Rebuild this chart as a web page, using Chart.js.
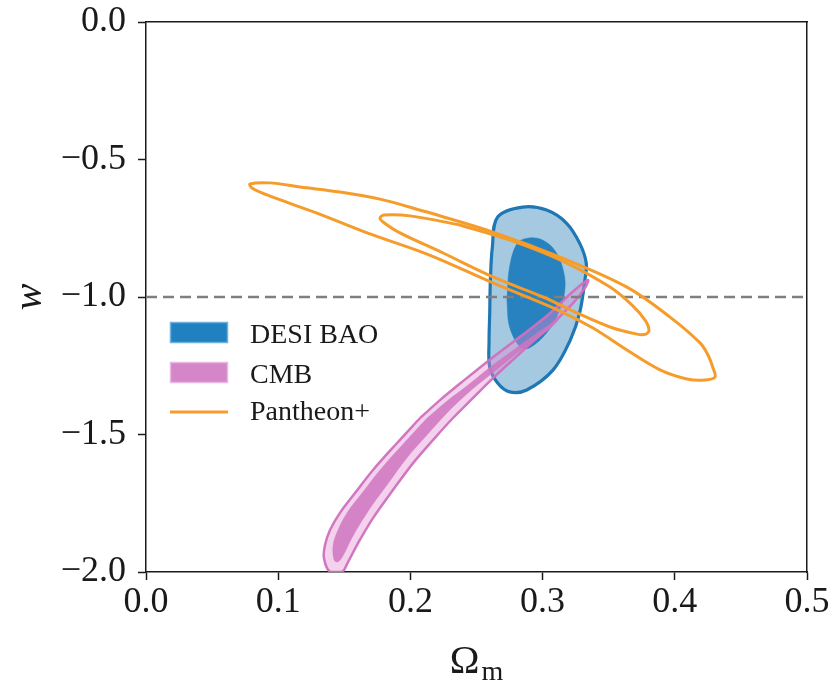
<!DOCTYPE html>
<html><head><meta charset="utf-8">
<script src="https://cdn.jsdelivr.net/npm/chart.js@4.4.1/dist/chart.umd.min.js"></script>
<style>html,body{margin:0;padding:0;background:#fff}</style>
</head><body>
<canvas id="c" width="836" height="687"></canvas>
<script>
// ---- tick values ----
const xTickValues = [0, 0.1, 0.2, 0.3, 0.4, 0.5];
const yTickValues = [-2, -1.5, -1, -0.5, 0];
const wLambda = -1.0;

// ---- contours [Omega_m, w] ----
const desiOuter = [[0.260,-1.058],[0.2595,-1.16],[0.260,-1.255],[0.266,-1.313],[0.275,-1.345],[0.288,-1.338],[0.308,-1.265],[0.321,-1.156],[0.328,-1.058],[0.332,-0.938],[0.333,-0.876],[0.328,-0.804],[0.318,-0.731],[0.303,-0.684],[0.285,-0.673],[0.266,-0.709],[0.262,-0.818],[0.2605,-0.94],[0.260,-1.058]];
const desiInner = [[0.273,-1.011],[0.275,-1.109],[0.283,-1.182],[0.290,-1.185],[0.303,-1.131],[0.313,-1.047],[0.317,-0.964],[0.315,-0.891],[0.309,-0.829],[0.300,-0.793],[0.290,-0.785],[0.281,-0.804],[0.275,-0.891],[0.273,-1.011]];
const cmbOuter = [[0.2073,-1.440],[0.2224,-1.375],[0.2390,-1.309],[0.2579,-1.236],[0.2776,-1.164],[0.3033,-1.068],[0.3230,-0.980],[0.3343,-0.938],[0.3321,-0.967],[0.3230,-1.022],[0.3033,-1.116],[0.2829,-1.205],[0.2625,-1.295],[0.2474,-1.367],[0.2322,-1.440],[0.2171,-1.520],[0.2020,-1.604],[0.1868,-1.702],[0.1717,-1.804],[0.1604,-1.895],[0.1528,-1.964],[0.1483,-2.000],[0.1392,-2.000],[0.1346,-1.949],[0.1354,-1.902],[0.1392,-1.847],[0.1467,-1.785],[0.1581,-1.713],[0.1717,-1.629],[0.1899,-1.531],[0.2073,-1.440]];
const cmbInner = [[0.2126,-1.440],[0.2277,-1.378],[0.2436,-1.320],[0.2602,-1.255],[0.2791,-1.189],[0.2980,-1.124],[0.3116,-1.084],[0.3071,-1.109],[0.2943,-1.156],[0.2791,-1.211],[0.2602,-1.284],[0.2436,-1.349],[0.2277,-1.422],[0.2126,-1.502],[0.1974,-1.585],[0.1823,-1.684],[0.1672,-1.785],[0.1558,-1.876],[0.1490,-1.942],[0.1452,-1.964],[0.1422,-1.956],[0.1415,-1.902],[0.1452,-1.847],[0.1520,-1.785],[0.1634,-1.713],[0.1770,-1.629],[0.1952,-1.531],[0.2126,-1.440]];
const pantheonOuter = [[0.2126,-0.691],[0.2625,-0.764],[0.3132,-0.855],[0.3638,-0.964],[0.3964,-1.073],[0.4191,-1.167],[0.4251,-1.211],[0.4289,-1.258],[0.4304,-1.291],[0.4228,-1.302],[0.4092,-1.298],[0.3888,-1.265],[0.3638,-1.193],[0.3381,-1.113],[0.3132,-1.051],[0.2625,-0.949],[0.2126,-0.844],[0.1672,-0.767],[0.1293,-0.695],[0.0915,-0.629],[0.0802,-0.604],[0.0787,-0.589],[0.0938,-0.585],[0.1165,-0.600],[0.1467,-0.618],[0.1770,-0.644],[0.2126,-0.691]];
const pantheonInner = [[0.2375,-0.738],[0.2753,-0.793],[0.3132,-0.865],[0.3510,-0.964],[0.3684,-1.033],[0.3775,-1.084],[0.3805,-1.120],[0.3782,-1.135],[0.3714,-1.135],[0.3510,-1.109],[0.3260,-1.058],[0.3003,-1.000],[0.2625,-0.927],[0.2247,-0.840],[0.1921,-0.767],[0.1793,-0.727],[0.1770,-0.713],[0.1800,-0.702],[0.1997,-0.705],[0.2375,-0.738]];

const legendLabels = ['DESI BAO', 'CMB', 'Pantheon+'];
const xTitleMain = 'Ω', xTitleSub = 'm', yTitle = 'w';

const SERIF = '"Liberation Serif", "DejaVu Serif", serif';
const INK = '#1a1a1a';
const pts = a => a.map(p => ({x: p[0], y: p[1]}));
const fmt = v => (v < 0 ? '\u2212' : '') + Math.abs(v).toFixed(1);

function contour(data, fillCol, lineCol, lw, order, fill) {
  return {data: pts(data), showLine: true, fill: fill ? 'shape' : false,
    backgroundColor: fillCol, borderColor: lineCol, borderWidth: lw,
    pointRadius: 0, pointHoverRadius: 0, tension: 0.35, order: order};
}

const decor = {
  id: 'decor',
  afterDraw(chart) {
    const ctx = chart.ctx, a = chart.chartArea;
    ctx.save();
    ctx.fillStyle = INK;
    ctx.textBaseline = 'alphabetic';
    ctx.font = '40px ' + SERIF;
    const w1 = ctx.measureText(xTitleMain).width;
    ctx.font = '28px ' + SERIF;
    const w2 = ctx.measureText(xTitleSub).width;
    const sx = (a.left + a.right) / 2 - (w1 + w2 + 2) / 2;
    ctx.font = '40px ' + SERIF;
    ctx.fillText(xTitleMain, sx, 673);
    ctx.font = '28px ' + SERIF;
    ctx.fillText(xTitleSub, sx + w1 + 2, 680);
    // legend
    ctx.fillStyle = '#2180bf'; ctx.fillRect(170, 322, 58, 21);
    ctx.strokeStyle = '#6fb0dc'; ctx.lineWidth = 1.5; ctx.strokeRect(170.5, 322.5, 57, 20);
    ctx.fillStyle = '#d486c8'; ctx.fillRect(170, 362, 58, 21);
    ctx.strokeStyle = '#e9b8e0'; ctx.strokeRect(170.5, 362.5, 57, 20);
    ctx.strokeStyle = '#f59c2a'; ctx.lineWidth = 3;
    ctx.beginPath(); ctx.moveTo(170, 412); ctx.lineTo(228, 412); ctx.stroke();
    ctx.fillStyle = INK;
    ctx.fillText(legendLabels[0], 250, 343);
    ctx.fillText(legendLabels[1], 250, 383);
    ctx.fillText(legendLabels[2], 250, 420);
    ctx.restore();
  }
};

new Chart(document.getElementById('c'), {
  type: 'scatter',
  data: {
    datasets: [
      contour(desiOuter, 'rgba(31,119,180,0.40)', '#1f77b4', 3.2, 10, true),
      contour(desiInner, 'rgba(31,125,190,0.92)', 'rgba(31,125,190,0.92)', 0.5, 9, true),
      contour(cmbOuter, 'rgba(228,140,210,0.40)', 'rgba(208,112,190,0.95)', 2.5, 8, true),
      contour(cmbInner, 'rgba(206,118,192,0.85)', 'rgba(206,118,192,0.5)', 0.5, 7, true),
      {data: [{x: 0, y: wLambda}, {x: 0.5, y: wLambda}], showLine: true, borderColor: '#7f7f7f',
       borderWidth: 2.5, borderDash: [11, 6], pointRadius: 0, fill: false, order: 6},
      contour(pantheonOuter, 'rgba(0,0,0,0)', '#f59c2a', 3, 5, false),
      contour(pantheonInner, 'rgba(0,0,0,0)', '#f59c2a', 3, 4, false)
    ]
  },
  options: {
    responsive: false, animation: false, events: [],
    layout: {padding: {top: 22, right: 29, left: 0, bottom: 0}},
    plugins: {legend: {display: false}, tooltip: {enabled: false}},
    scales: {
      x: {type: 'linear', position: 'bottom', min: 0, max: 0.5,
        afterBuildTicks: s => { s.ticks = xTickValues.map(v => ({value: v})); },
        afterFit: s => { s.height = 115; },
        ticks: {font: {family: SERIF, size: 36}, color: INK, padding: 1, callback: v => fmt(v), maxRotation: 0, autoSkip: false},
        grid: {drawOnChartArea: false, drawTicks: true, tickLength: 8, tickColor: INK, tickWidth: 1.5},
        border: {display: true, color: INK, width: 1.5}},
      y: {type: 'linear', position: 'left', min: -2, max: 0,
        afterBuildTicks: s => { s.ticks = yTickValues.map(v => ({value: v})); },
        afterFit: s => { s.width = 146; s.paddingTop = 0; s.paddingBottom = 0; },
        ticks: {font: {family: SERIF, size: 36, lineHeight: 0.6}, color: INK, padding: 12, callback: v => fmt(v), autoSkip: false},
        grid: {drawOnChartArea: false, drawTicks: true, tickLength: 8, tickColor: INK, tickWidth: 1.5},
        border: {display: true, color: INK, width: 1.5},
        title: {display: true, text: yTitle, font: {family: SERIF, size: 40, style: 'italic'}, color: INK, padding: {top: 6, bottom: 0}}},
      x2: {type: 'linear', position: 'top', min: 0, max: 0.5, afterFit: s => { s.height = 0; },
        ticks: {display: false}, grid: {drawOnChartArea: false, drawTicks: false},
        border: {display: true, color: INK, width: 1.5}},
      y2: {type: 'linear', position: 'right', min: -2, max: 0, afterFit: s => { s.width = 0; },
        ticks: {display: false}, grid: {drawOnChartArea: false, drawTicks: false},
        border: {display: true, color: INK, width: 1.5}}
    }
  },
  plugins: [decor]
});
</script>
</body></html>
